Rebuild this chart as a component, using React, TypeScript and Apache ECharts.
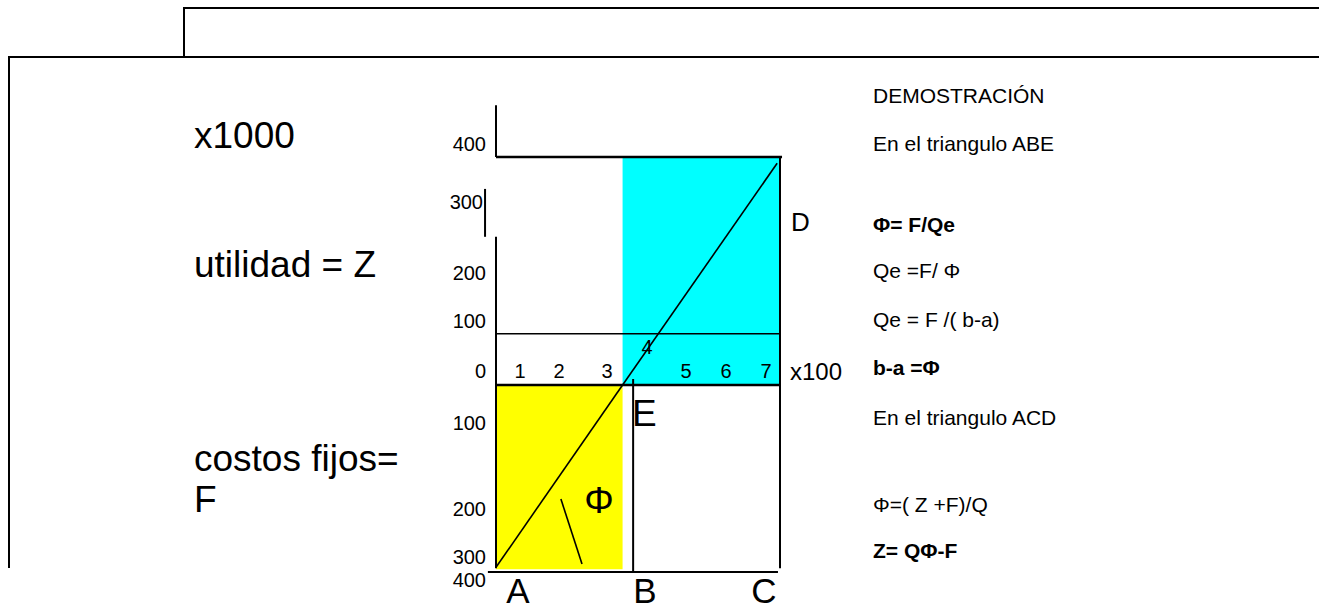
import React, { useEffect, useRef } from "react";
import * as echarts from "echarts";

const FONT = '"Liberation Sans", Arial, Helvetica, sans-serif';

// Quantity axis in hundreds of units (x100); money in thousands (x1000)
const qMax = 7;
const moneyMax = 400;
const breakEvenQ = 3.12; // Qe, where the line crosses the quantity axis
const pointBQ = 3.38;
const fixedCostF = 390; // where the line starts at Q = 0 (costos fijos)
const profitGuide = 90; // thin horizontal guide in the profit area

// Profit line: from -F at Q = 0 to the top right corner
const costLine: number[][] = [
  [0, fixedCostF],
  [breakEvenQ, 0],
];
const profitLine: number[][] = [
  [breakEvenQ, 0],
  [6.93, 389],
];

// Shaded areas [x0, y0, x1, y1]
const profitArea: number[][] = [[breakEvenQ, 0, qMax, moneyMax]];
const costArea: number[][] = [[0, 0, breakEvenQ, 394]];

// Diagram segments [x1, y1, x2, y2] in the profit (upper) half
const upperThin: number[][] = [[0, profitGuide, qMax, profitGuide]];
const upperNormal: number[][] = [
  [0, 491, 0, moneyMax],
  [-0.27, 344, -0.27, 260],
  [0, 260, 0, 0],
  [qMax, moneyMax, qMax, 0],
  [pointBQ, 10.5, pointBQ, 0],
];
const upperThick: number[][] = [
  [0, moneyMax, 7.05, moneyMax],
  [0, 0, qMax, 0],
];
// ... and in the fixed-cost (lower) half
const lowerNormal: number[][] = [
  [0, 0, 0, 392],
  [qMax, 0, qMax, 392],
  [pointBQ, 0, pointBQ, moneyMax],
  [-0.2, moneyMax, 6.95, moneyMax],
];
const lowerThin: number[][] = [[1.6, 244, 2.12, 383]];

// Texts
const upperTickLabels = ["400", "300", "200", "100", "0"];
const lowerTickLabels = ["100", "200", "300", "400"];
const xTickLabels = ["1", "2", "3", "4", "5", "6", "7"];
const bottomPointLabels = ["A", "B", "C"];
const pointLabelD = "D";
const pointLabelE = "E";
const angleLabel = "Φ";
const xUnitLabel = "x100";
const sideLabels = ["x1000", "utilidad = Z", "costos fijos=", "F"];
const demoLines = [
  "DEMOSTRACIÓN",
  "En el triangulo ABE",
  "Φ= F/Qe",
  "Qe =F/ Φ",
  "Qe = F /( b-a)",
  "b-a =Φ",
  "En el triangulo ACD",
  "Φ=( Z +F)/Q",
  "Z= QΦ-F",
];
const demoBold = [false, false, true, false, false, true, false, false, true];

// Layout (pixels)
const upperTickY = [144, 202, 273, 321, 371];
const upperTickRight = [486, 483, 486, 486, 486];
const lowerTickY = [423, 509, 557, 580];
const xTickX = [520, 559, 607, 647, 686, 726, 766];
const xTickY = [371, 371, 371, 347, 371, 371, 371];
const bottomPointX = [518, 645, 764];
const sideLabelY = [135, 264, 458, 499];
const demoY = [95, 143, 224, 270, 319, 367, 417, 504, 550];

function segSeries(grid: number, data: number[][], width: number, z: number) {
  return {
    type: "custom",
    xAxisIndex: grid,
    yAxisIndex: grid,
    clip: false,
    silent: true,
    z,
    data,
    renderItem: (_p: any, api: any) => {
      const a = api.coord([api.value(0), api.value(1)]);
      const b = api.coord([api.value(2), api.value(3)]);
      return {
        type: "line",
        shape: { x1: a[0], y1: a[1], x2: b[0], y2: b[1] },
        style: { stroke: "#000", lineWidth: width, lineCap: "butt" },
      };
    },
  };
}

function rectSeries(grid: number, data: number[][], color: string) {
  return {
    type: "custom",
    xAxisIndex: grid,
    yAxisIndex: grid,
    clip: false,
    silent: true,
    z: 1,
    data,
    renderItem: (_p: any, api: any) => {
      const a = api.coord([api.value(0), api.value(1)]);
      const b = api.coord([api.value(2), api.value(3)]);
      return {
        type: "rect",
        shape: {
          x: Math.min(a[0], b[0]),
          y: Math.min(a[1], b[1]),
          width: Math.abs(b[0] - a[0]),
          height: Math.abs(b[1] - a[1]),
        },
        style: { fill: color },
      };
    },
  };
}

function txt(text: string, x: number, y: number, size: number, align = "left", bold = false) {
  return {
    type: "text",
    x,
    y,
    z: 100,
    silent: true,
    style: {
      text,
      fill: "#000",
      font: `${bold ? "bold " : ""}${size}px ${FONT}`,
      textAlign: align,
      textVerticalAlign: "middle",
    },
  };
}

export default function App() {
  const ref = useRef<HTMLDivElement>(null);

  useEffect(() => {
    if (!ref.current) return;
    const chart = echarts.init(ref.current, undefined, { renderer: "svg" });

    const graphics: any[] = [];
    // page frame
    graphics.push({
      type: "polyline",
      shape: { points: [[184, 57], [184, 8], [1319, 8]] },
      style: { stroke: "#000", lineWidth: 2, fill: "none" },
      silent: true,
    });
    graphics.push({
      type: "polyline",
      shape: { points: [[1319, 57], [9, 57], [9, 568]] },
      style: { stroke: "#000", lineWidth: 2, fill: "none" },
      silent: true,
    });
    upperTickLabels.forEach((t, i) => graphics.push(txt(t, upperTickRight[i], upperTickY[i], 20, "right")));
    lowerTickLabels.forEach((t, i) => graphics.push(txt(t, 486, lowerTickY[i], 20, "right")));
    xTickLabels.forEach((t, i) => graphics.push(txt(t, xTickX[i], xTickY[i], 20, "center")));
    graphics.push(txt(xUnitLabel, 790, 371, 24));
    bottomPointLabels.forEach((t, i) => graphics.push(txt(t, bottomPointX[i], 590.5, 35, "center")));
    graphics.push(txt(pointLabelD, 791, 222, 26));
    graphics.push(txt(pointLabelE, 632, 413, 37));
    graphics.push(txt(angleLabel, 599, 500, 37, "center"));
    sideLabels.forEach((t, i) => graphics.push(txt(t, 194, sideLabelY[i], 37)));
    demoLines.forEach((t, i) => graphics.push(txt(t, 873, demoY[i], 21, "left", demoBold[i])));

    const hiddenX = (gridIndex: number) => ({
      type: "value",
      gridIndex,
      min: 0,
      max: qMax,
      show: false,
    });
    const hiddenY = (gridIndex: number, inverse: boolean) => ({
      type: "value",
      gridIndex,
      min: 0,
      max: moneyMax,
      inverse,
      show: false,
    });

    chart.setOption({
      animation: false,
      backgroundColor: "#fff",
      grid: [
        { left: 496, top: 157, width: 284, height: 228 },
        { left: 496, top: 385, width: 284, height: 187 },
      ],
      xAxis: [hiddenX(0), hiddenX(1)],
      yAxis: [hiddenY(0, false), hiddenY(1, true)],
      series: [
        rectSeries(0, profitArea, "#00ffff"),
        rectSeries(1, costArea, "#ffff00"),
        segSeries(0, upperNormal, 2, 3),
        segSeries(0, upperThick, 2.6, 3),
        segSeries(0, upperThin, 1.6, 3),
        segSeries(1, lowerNormal, 2, 3),
        segSeries(1, lowerThin, 1.6, 3),
        {
          type: "line",
          xAxisIndex: 0,
          yAxisIndex: 0,
          data: profitLine,
          symbol: "none",
          clip: false,
          silent: true,
          z: 4,
          lineStyle: { color: "#000", width: 1.6 },
        },
        {
          type: "line",
          xAxisIndex: 1,
          yAxisIndex: 1,
          data: costLine,
          symbol: "none",
          clip: false,
          silent: true,
          z: 4,
          lineStyle: { color: "#000", width: 1.6 },
        },
      ],
      graphic: graphics,
    });

    return () => chart.dispose();
  }, []);

  return (
    <div
      ref={ref}
      style={{ position: "fixed", left: 0, top: 0, width: 1319, height: 611, background: "#fff" }}
    />
  );
}
